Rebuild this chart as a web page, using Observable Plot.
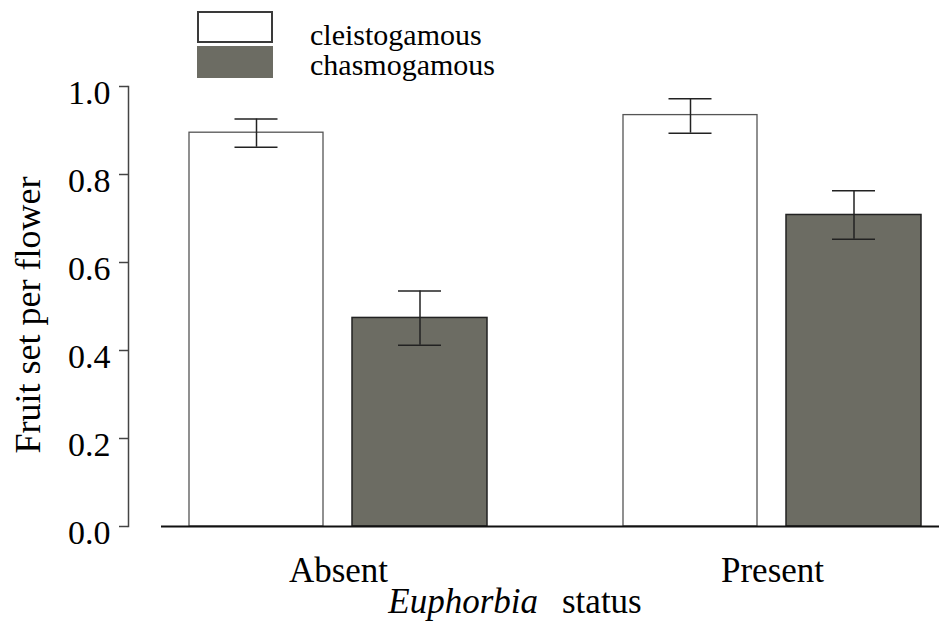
<!DOCTYPE html>
<html>
<head>
<meta charset="utf-8">
<script src="https://cdn.jsdelivr.net/npm/d3@7"></script>
<script src="https://cdn.jsdelivr.net/npm/@observablehq/plot@0.6"></script>
<style>
  html, body { margin: 0; padding: 0; background: #fff; }
  #wrap { position: relative; width: 939px; height: 623px; font-family: "Liberation Serif", "DejaVu Serif", serif; color: #000; }
  #chart { position: absolute; left: 0; top: 0; }
  .abs { position: absolute; white-space: nowrap; line-height: 1; font-family: "Liberation Serif", "DejaVu Serif", serif; }
  .box { position: absolute; box-sizing: border-box; }
</style>
</head>
<body>
<div id="wrap">
  <div id="chart"></div>
  <div class="box" style="left:197px; top:11px; width:76px; height:32px; border:2px solid #3a3a3a; background:#fff;"></div>
  <div class="box" style="left:197px; top:46px; width:76px; height:32px; background:#6c6c63;"></div>
  <div class="abs" id="leg1" style="left:310px; top:20px; font-size:30px;"></div>
  <div class="abs" id="leg2" style="left:310px; top:50px; font-size:30px;"></div>
  <div class="abs" id="ytitle" style="left:28px; top:315px; font-size:36px; transform:translate(-50%,-50%) rotate(-90deg);"></div>
  <div class="abs" id="xtitle" style="left:515px; top:584px; font-size:35px; transform:translateX(-50%);"></div>
</div>
<script>
// ---- data ----
const groups = ["Absent", "Present"];
const seriesNames = ["cleistogamous", "chasmogamous"];
const cleistoMean = [0.895, 0.935];
const cleistoLo   = [0.862, 0.894];
const cleistoHi   = [0.926, 0.972];
const chasmoMean  = [0.474, 0.708];
const chasmoLo    = [0.412, 0.653];
const chasmoHi    = [0.535, 0.763];
const yTicks = [0, 0.2, 0.4, 0.6, 0.8, 1.0];
const yTitle = "Fruit set per flower";
const xTitleItalic = "Euphorbia";
const xTitleRest = "status";

// ---- tables ----
const cleisto = groups.map((g, i) => ({group: g, mean: cleistoMean[i], lo: cleistoLo[i], hi: cleistoHi[i]}));
const chasmo = groups.map((g, i) => ({group: g, mean: chasmoMean[i], lo: chasmoLo[i], hi: chasmoHi[i]}));

document.getElementById("leg1").textContent = seriesNames[0];
document.getElementById("leg2").textContent = seriesNames[1];
document.getElementById("ytitle").textContent = yTitle;
const xt = document.getElementById("xtitle");
const it = document.createElement("i"); it.textContent = xTitleItalic;
const st = document.createElement("span"); st.textContent = xTitleRest; st.style.marginLeft = "24px";
xt.appendChild(it); xt.appendChild(st);

const errColor = "#222";
const plot = Plot.plot({
  width: 939,
  height: 623,
  marginTop: 86,
  marginBottom: 97,
  marginLeft: 128,
  marginRight: 0,
  style: {fontFamily: "'Liberation Serif', 'DejaVu Serif', serif", background: "transparent", color: "#000"},
  x: {type: "band", domain: groups, paddingInner: 0.3126, paddingOuter: 0.0885, align: 0.779},
  y: {domain: [0, 1]},
  marks: [
    Plot.barY(cleisto, {x: "group", y: "mean", fill: "#fff", stroke: "#555", strokeWidth: 1.3, insetRight: 164}),
    Plot.barY(chasmo, {x: "group", y: "mean", fill: "#6c6c63", stroke: "#222", strokeWidth: 1.5, insetLeft: 163}),
    Plot.ruleX(cleisto, {x: "group", y1: "lo", y2: "hi", dx: -82, stroke: errColor, strokeWidth: 1.5}),
    Plot.ruleX(chasmo, {x: "group", y1: "lo", y2: "hi", dx: 81.5, stroke: errColor, strokeWidth: 1.5}),
    Plot.tickY(cleisto, {x: "group", y: "hi", insetLeft: 45.5, insetRight: 209.5, stroke: errColor, strokeWidth: 1.5}),
    Plot.tickY(cleisto, {x: "group", y: "lo", insetLeft: 45.5, insetRight: 209.5, stroke: errColor, strokeWidth: 1.5}),
    Plot.tickY(chasmo, {x: "group", y: "hi", insetLeft: 209, insetRight: 46, stroke: errColor, strokeWidth: 1.5}),
    Plot.tickY(chasmo, {x: "group", y: "lo", insetLeft: 209, insetRight: 46, stroke: errColor, strokeWidth: 1.5}),
    Plot.ruleY([0], {insetLeft: 33, stroke: "#111", strokeWidth: 2}),
    Plot.frame({anchor: "left", stroke: "#444", strokeWidth: 1.5}),
    Plot.axisY({ticks: yTicks, tickSize: 9, stroke: "#444", strokeWidth: 1.5, fill: "none", label: null}),
    Plot.axisY({ticks: yTicks, tickSize: 9, tickPadding: 9, stroke: "none", fill: "#000", fontSize: 34, tickFormat: d3.format(".1f"), dy: 7, label: null}),
    Plot.axisX({tickSize: 0, tickPadding: 31, fontSize: 35, fill: "#000", label: null})
  ]
});
document.getElementById("chart").appendChild(plot);
</script>
</body>
</html>
